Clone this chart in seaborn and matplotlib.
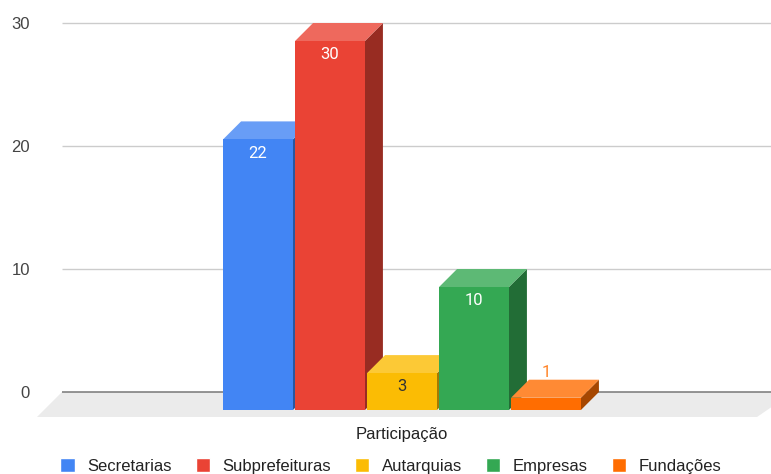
import pandas as pd
import seaborn as sns
import matplotlib.pyplot as plt
from matplotlib.patches import Polygon
from matplotlib.colors import to_rgb

# dados do gráfico
categorias = ["Secretarias", "Subprefeituras", "Autarquias", "Empresas", "Fundações"]
valores = [22, 30, 3, 10, 1]
grupo = ["Participação"] * len(categorias)
cores = ["#4285F4", "#EA4335", "#FBBC04", "#34A853", "#FF6D01"]
yticks = [0, 10, 20, 30]

df = pd.DataFrame({"grupo": grupo, "categoria": categorias, "valor": valores})

sns.set_style("white")
plt.rcParams["font.family"] = ["Liberation Sans", "DejaVu Sans"]

W, H = 771, 474
fig = plt.figure(figsize=(W / 100, H / 100), dpi=100)
ax = fig.add_axes([62 / W, 1 - 420 / H, 1 - 62 / W, 410 / H])

sns.barplot(data=df, x="grupo", y="valor", hue="categoria", palette=cores,
            width=0.8, gap=0.03, saturation=1, ax=ax)

# escala: px por unidade
px_x, px_y = 450, 12.3
dx, dy = 18 / px_x, 18 / px_y
xl = (-(402 - 62) / px_x, (771 - 402) / px_x)
yl = (-(420 - 392) / px_y, (392 - 10) / px_y)
ax.set_xlim(xl)
ax.set_ylim(yl)

# chão cinza e linhas de grade
fx, fy = 25 / px_x, 25 / px_y
floor = Polygon([(xl[0], 0), (xl[1] + 0.05, 0), ((757 - 402) / px_x, -fy), (xl[0] - fx, -fy)],
                closed=True, fc="#ebebeb", ec="none", zorder=0.5, clip_on=False)
ax.add_patch(floor)
ax.hlines(yticks[1:], xl[0], xl[1], colors="#cccccc", lw=1, zorder=1)
ax.hlines(0, xl[0], xl[1], colors="#777777", lw=1.1, zorder=1.5)


def mix(c, t, f):
    return tuple(a + (b - a) * f for a, b in zip(to_rgb(c), t))


# faces 3D
for i, cont in enumerate(ax.containers):
    cor = cores[i]
    for bar in cont:
        x0, w, v = bar.get_x(), bar.get_width(), bar.get_height()
        x1 = x0 + w
        y0, y1 = -dy, v - dy
        bar.set_y(y0)
        bar.set_edgecolor("none")
        bar.set_linewidth(0)
        bar.set_zorder(3 + i * 0.1 + 0.05)
        side = Polygon([(x1, y0), (x1 + dx, y0 + dy), (x1 + dx, y1 + dy), (x1, y1)],
                       closed=True, fc=mix(cor, (0, 0, 0), 0.35), ec="none", zorder=3 + i * 0.1)
        top = Polygon([(x0, y1), (x0 + dx, y1 + dy), (x1 + dx, y1 + dy), (x1, y1)],
                      closed=True, fc=mix(cor, (1, 1, 1), 0.2), ec="none", zorder=3 + i * 0.1)
        ax.add_patch(side)
        ax.add_patch(top)

        cx = x0 + w / 2
        rotulo = f"{v:.0f}"
        if v * px_y > 30:
            cor_txt = "#333333" if categorias[i] == "Autarquias" else "white"
            ax.annotate(rotulo, (cx, y1), xytext=(0, -10), textcoords="offset points",
                        ha="center", va="center", fontsize=12, color=cor_txt,
                        family=["Roboto", "DejaVu Sans"], zorder=10)
        else:
            ax.annotate(rotulo, (cx, y1), xytext=(0, 18), textcoords="offset points",
                        ha="center", va="center", fontsize=12, color=mix(cor, (1, 1, 1), 0.15),
                        family=["Roboto", "DejaVu Sans"], zorder=10)

ax.set_yticks(yticks)
ax.set_xlabel("")
ax.set_ylabel("")
ax.tick_params(axis="y", length=0, pad=23, labelsize=12, labelcolor="#444444")
ax.tick_params(axis="x", length=0, pad=5, labelsize=12, labelcolor="#222222")
sns.despine(ax=ax, left=True, bottom=True)

sns.move_legend(ax, "center", bbox_to_anchor=(391 / W, 1 - 466 / H), bbox_transform=fig.transFigure,
                ncol=5, frameon=False, title=None, fontsize=12, handlelength=0.85, handleheight=0.85,
                handletextpad=0.75, columnspacing=1.45, borderpad=0, borderaxespad=0)
for t in ax.get_legend().get_texts():
    t.set_color("#222222")

fig.savefig("out.png", dpi=100)
